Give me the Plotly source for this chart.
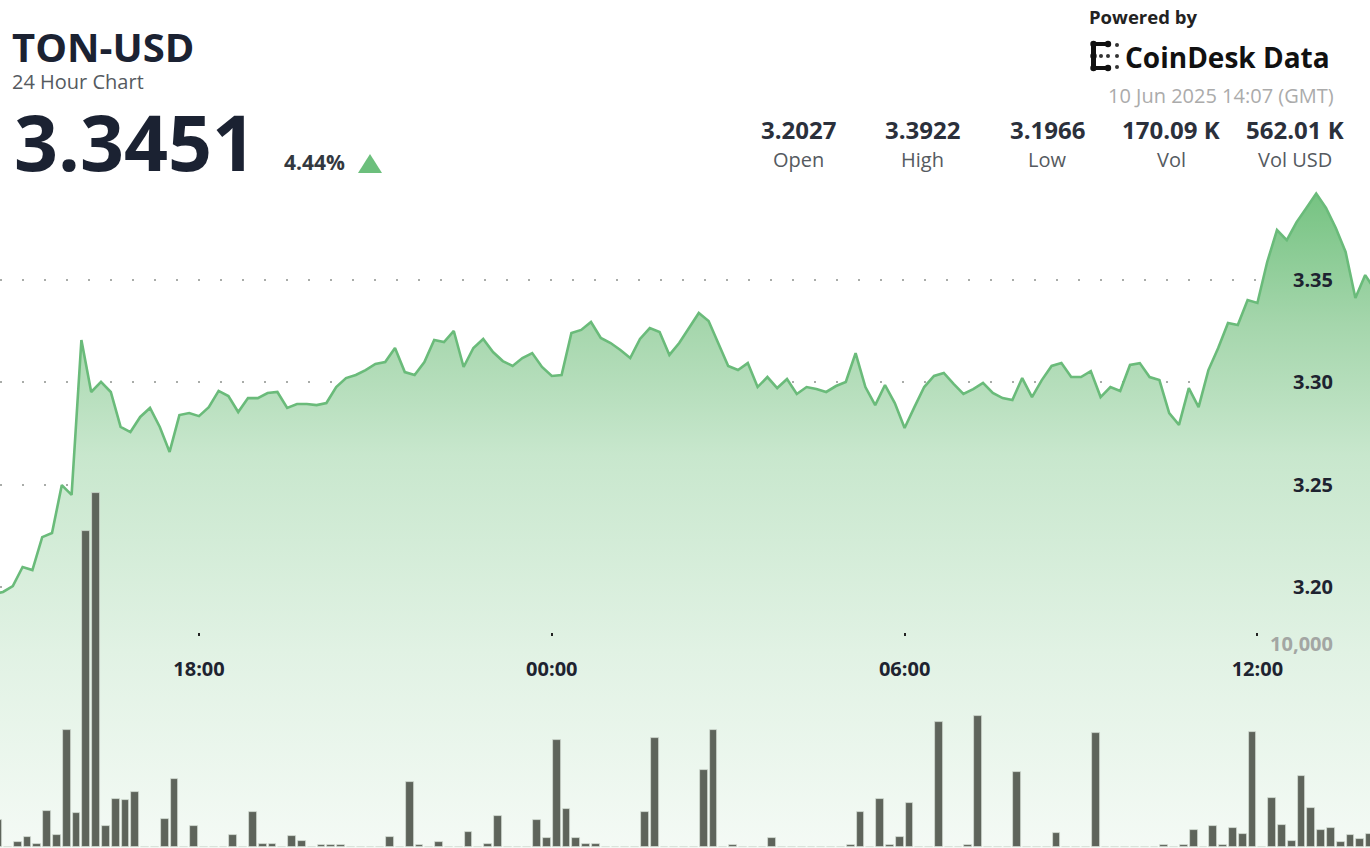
import pandas as pd
import plotly.graph_objects as go

# ---------------- data ----------------
symbol = "TON-USD"
subtitle = "24 Hour Chart"
last_price = "3.3451"
change_pct = "4.44%"
timestamp = "10 Jun 2025 14:07 (GMT)"
stat_values = ["3.2027", "3.3922", "3.1966", "170.09 K", "562.01 K"]
stat_labels = ["Open", "High", "Low", "Vol", "Vol USD"]

price_start = "2025-06-09 14:30"
prices = [
    3.1966, 3.1976, 3.2005, 3.2098, 3.2083, 3.2244, 3.2264, 3.2498, 3.2450, 3.3207,
    3.2953, 3.3002, 3.2953, 3.2782, 3.2757, 3.2831, 3.2875, 3.2782, 3.2660, 3.2840,
    3.2850, 3.2835, 3.2879, 3.2958, 3.2933, 3.2855, 3.2923, 3.2923, 3.2948, 3.2953,
    3.2875, 3.2894, 3.2894, 3.2889, 3.2899, 3.2977, 3.3021, 3.3036, 3.3060, 3.3090,
    3.3099, 3.3168, 3.3050, 3.3036, 3.3099, 3.3207, 3.3197, 3.3251, 3.3075, 3.3168,
    3.3212, 3.3148, 3.3104, 3.3080, 3.3119, 3.3143, 3.3075, 3.3031, 3.3036, 3.3241,
    3.3256, 3.3295, 3.3217, 3.3192, 3.3158, 3.3119, 3.3212, 3.3265, 3.3246, 3.3134,
    3.3192, 3.3265, 3.3339, 3.3300, 3.3192, 3.3080, 3.3060, 3.3094, 3.2977, 3.3026,
    3.2972, 3.3016, 3.2943, 3.2977, 3.2967, 3.2953, 3.2982, 3.3002, 3.3143, 3.2977,
    3.2889, 3.2987, 3.2899, 3.2777, 3.2879, 3.2977, 3.3031, 3.3046, 3.2992, 3.2943,
    3.2967, 3.2997, 3.2948, 3.2923, 3.2914, 3.3021, 3.2928, 3.3011, 3.3080, 3.3094,
    3.3026, 3.3026, 3.3055, 3.2928, 3.2977, 3.2958, 3.3085, 3.3094, 3.3026, 3.3011,
    3.2850, 3.2792, 3.2972, 3.2879, 3.3060, 3.3168, 3.3290, 3.3280, 3.3402, 3.3388,
    3.3588, 3.3744, 3.3695, 3.3783, 3.3852, 3.3922, 3.3852, 3.3754, 3.3637, 3.3412,
    3.3524, 3.3451,
]

volume_start = "2025-06-09 14:35"
volumes = [
    1330, 0, 250, 490, 150, 1770, 590, 5760, 1670, 15620,
    17490, 1030, 2360, 2320, 2710, 0, 0, 1380, 3350, 0,
    1030, 0, 0, 0, 590, 0, 1720, 150, 150, 0,
    540, 300, 0, 100, 100, 100, 0, 0, 0, 0,
    490, 0, 3200, 100, 0, 250, 0, 0, 740, 0,
    150, 1530, 0, 0, 0, 1330, 440, 5270, 1870, 440,
    150, 150, 0, 0, 0, 0, 1720, 5370, 0, 0,
    0, 0, 3790, 5760, 0, 100, 0, 0, 0, 440,
    0, 0, 0, 0, 0, 0, 0, 100, 1720, 0,
    2360, 100, 490, 2170, 0, 0, 6160, 0, 0, 100,
    6450, 0, 0, 0, 3690, 0, 0, 0, 690, 0,
    0, 0, 5620, 0, 0, 0, 0, 0, 0, 100,
    0, 100, 840, 0, 1030, 100, 940, 640, 5660, 0,
    2410, 1080, 300, 3500, 1920, 840, 940, 250, 590, 390,
    640,
]

x_ticks = ["2025-06-09 18:00", "2025-06-10 00:00", "2025-06-10 06:00", "2025-06-10 12:00"]
x_ticktext = ["18:00", "00:00", "06:00", "12:00"]
price_ticks = [3.20, 3.25, 3.30, 3.35]
price_ticktext = ["3.20", "3.25", "3.30", "3.35"]
vol_ticks = [10000]
vol_ticktext = ["10,000"]

# ---------------- figure ----------------
W, H = 1370, 848
px = lambda x: x / W
py = lambda y: 1 - y / H

times = pd.date_range(price_start, periods=len(prices), freq="10min")
vtimes = pd.date_range(volume_start, periods=len(volumes), freq="10min")

fig = go.Figure()
fig.add_trace(go.Scatter(
    x=times, y=prices, mode="lines",
    line=dict(color="#6abb7a", width=2.6),
    fill="tozeroy",
    fillgradient=dict(
        type="vertical",
        colorscale=[[0, "rgb(244,250,245)"], [0.3, "rgb(225,242,228)"],
                    [0.6, "rgb(200,231,205)"], [0.8, "rgb(165,214,172)"],
                    [1, "rgb(118,195,130)"]],
        start=3.0725, stop=3.3922,
    ),
    hoverinfo="skip", yaxis="y",
))
fig.add_trace(go.Bar(
    x=vtimes, y=volumes, yaxis="y2",
    marker=dict(color="#5e645b", line=dict(color="rgba(215,225,215,0.9)", width=0.8)),
    width=8 * 60 * 1000,
    hoverinfo="skip",
))

grid_common = dict(showgrid=True, gridcolor="#a9aca9", griddash="2px,20px", gridwidth=2,
                   zeroline=False, showline=False, ticks="")

fig.update_layout(
    width=W, height=H,
    margin=dict(l=0, r=0, t=0, b=0),
    paper_bgcolor="white", plot_bgcolor="white",
    showlegend=False,
    font=dict(family="Open Sans"),
    bargap=0,
    xaxis=dict(
        type="date",
        range=["2025-06-09 14:36:56", "2025-06-10 13:54:54"],
        tickvals=x_ticks, ticktext=x_ticktext,
        showgrid=False, zeroline=False, showline=False,
        anchor="free", position=py(632),
        ticks="outside", ticklen=3, tickwidth=2, tickcolor="#222",
        ticklabelstandoff=16,
        tickfont=dict(family="Open Sans", size=20, color="#1e2330", weight="bold"),
    ),
    yaxis=dict(
        range=[3.0725, 3.4868],
        tickvals=price_ticks, ticktext=price_ticktext,
        side="right", anchor="free", position=px(1336),
        ticklabelposition="inside",
        tickfont=dict(family="Open Sans", size=20, color="#1e2330", weight="bold"),
        **grid_common,
    ),
    yaxis2=dict(
        range=[-49, 41823],
        overlaying="y",
        tickvals=vol_ticks, ticktext=vol_ticktext,
        side="right", anchor="free", position=px(1336),
        ticklabelposition="inside",
        tickfont=dict(family="Open Sans", size=20, color="#a3a6a3", weight="bold"),
        **grid_common,
    ),
)

ann = []
def add_text(text, x, y, size, color, bold=False, xanchor="left", height=None):
    a = dict(text=text, x=px(x), y=py(y), xref="paper", yref="paper",
             xanchor=xanchor, yanchor="middle", showarrow=False, borderpad=0,
             font=dict(family="Open Sans", size=size, color=color,
                       weight="bold" if bold else "normal"))
    if height is not None:
        a["height"] = height
    ann.append(a)

add_text(symbol, 11, 46, 40, "#1b2232", bold=True, height=38)
add_text(subtitle, 11, 81, 20, "#555a60", height=22)
add_text(last_price, 13, 141, 77, "#1b2232", bold=True, height=72)
add_text(change_pct, 283, 162, 21, "#333840", bold=True)
add_text("Powered by", 1088, 17, 18.5, "#222222", bold=True)
add_text("CoinDesk Data", 1124, 57, 28, "#111111", bold=True)
add_text(timestamp, 1335, 96, 20, "#ababab", xanchor="right")
stat_x = [798, 922, 1047, 1171, 1295]
for sx, v, l in zip(stat_x, stat_values, stat_labels):
    add_text(v, sx, 129, 24, "#2b303b", bold=True, xanchor="center")
    add_text(l, sx, 160, 20, "#555a60", xanchor="center")
fig.update_layout(annotations=ann)

shapes = []
# up triangle
shapes.append(dict(type="path", xref="paper", yref="paper",
                   path=f"M {px(358)},{py(173)} L {px(382)},{py(173)} L {px(370)},{py(154)} Z",
                   fillcolor="#6cbf7c", line=dict(width=0)))
# CoinDesk icon
def rect(x0, y0, x1, y1, color="#111"):
    shapes.append(dict(type="rect", xref="paper", yref="paper",
                       x0=px(x0), x1=px(x1), y0=py(y1), y1=py(y0),
                       fillcolor=color, line=dict(width=0)))
def dot(cx, cy, r, color="#111"):
    shapes.append(dict(type="circle", xref="paper", yref="paper",
                       x0=px(cx - r), x1=px(cx + r), y0=py(cy + r), y1=py(cy - r),
                       fillcolor=color, line=dict(width=0)))
rect(1091, 42, 1110, 46)
rect(1091, 42, 1096, 70)
rect(1091, 66, 1110, 70)
for cx, cy in [(1093.5, 44), (1093.5, 68), (1108, 44), (1108, 68), (1093.5, 56)]:
    dot(cx, cy, 3.2)
for cx, cy in [(1101, 56), (1108, 56), (1117, 56), (1117, 45), (1117, 67)]:
    dot(cx, cy, 2.0, "#333")
fig.update_layout(shapes=shapes)

fig.write_html(
    "out.html",
    config={"displayModeBar": False},
    post_script="document.body.style.margin='0';document.body.style.overflow='hidden';",
)
